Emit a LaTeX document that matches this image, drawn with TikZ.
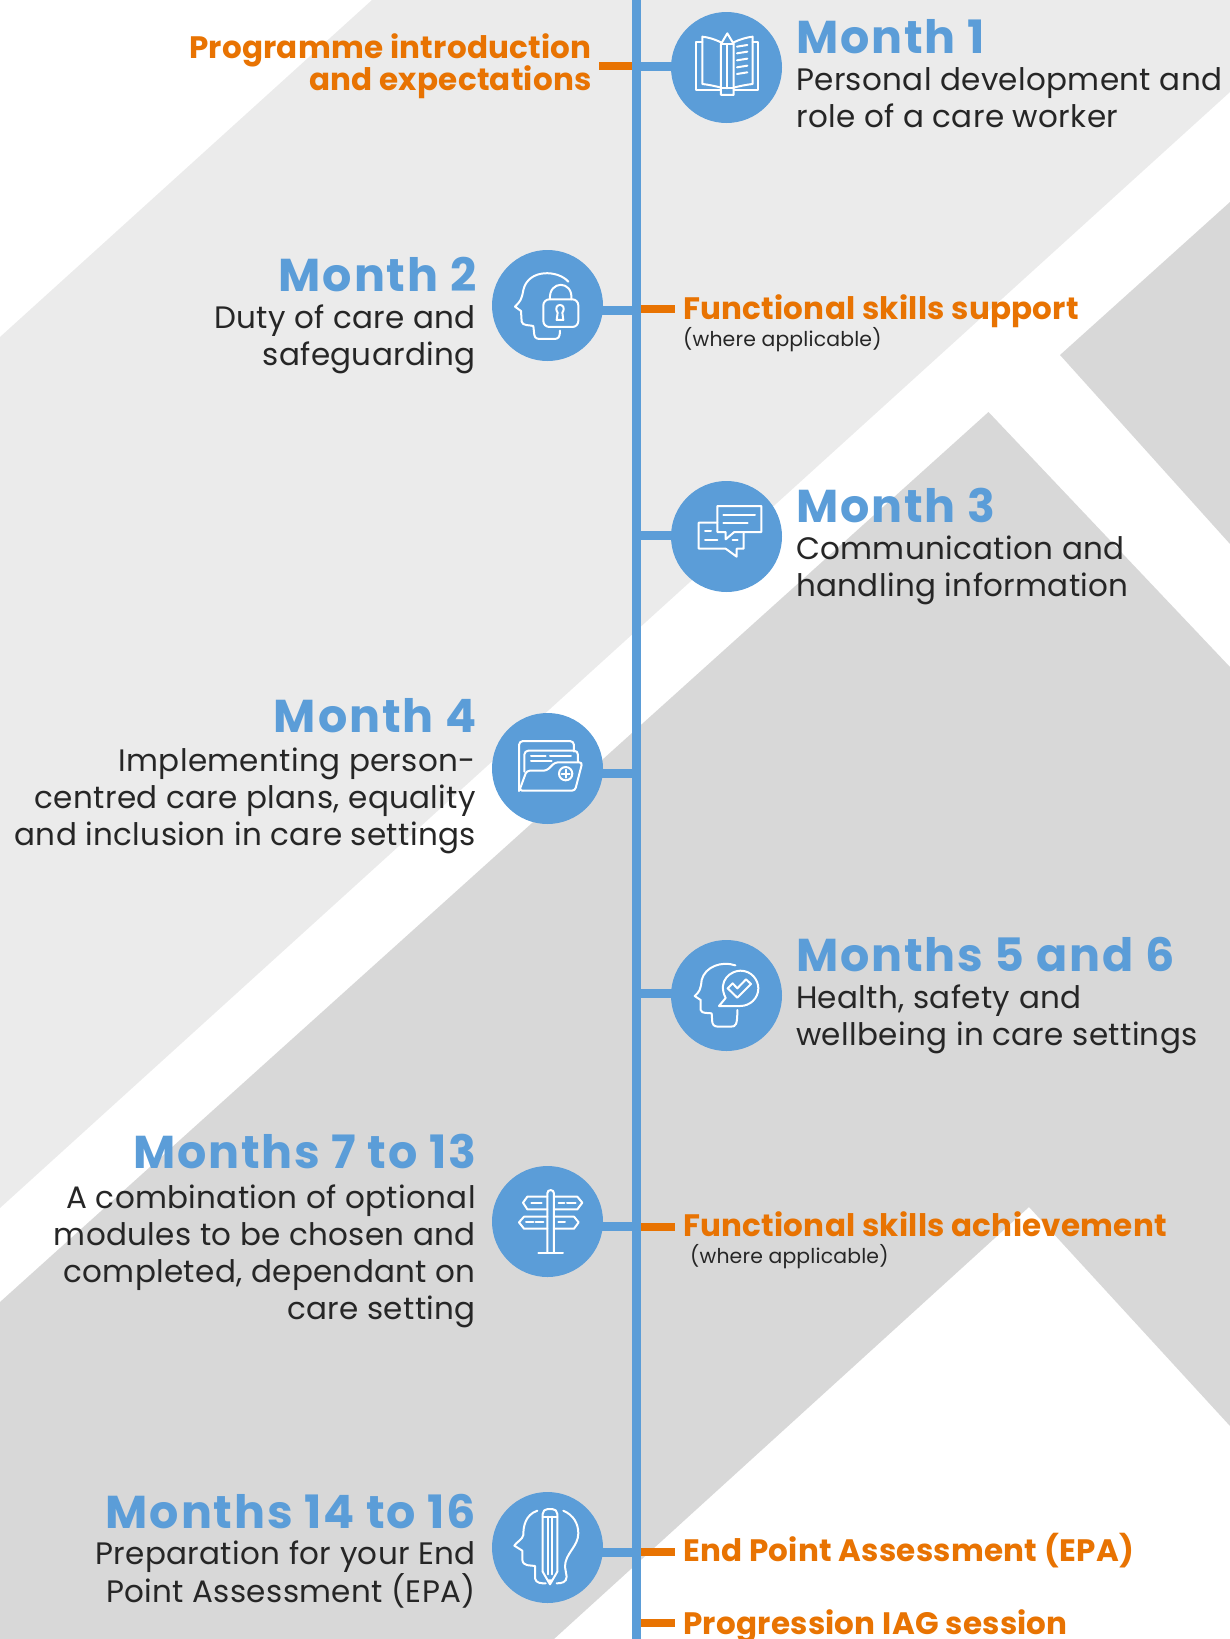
\documentclass[tikz,border=0pt]{standalone}
\usepackage{fontspec}
\setmainfont{Poppins}[LetterSpace=1.1]
\newfontfamily\headfont{Poppins}[LetterSpace=4]
\newfontfamily\notefont{Poppins}[LetterSpace=0.8]
\newfontfamily\smallfont{Poppins}[LetterSpace=0.8]
\definecolor{bandlight}{HTML}{EBEBEB}
\definecolor{banddark}{HTML}{D8D8D8}
\definecolor{spineblue}{HTML}{5B9DD8}
\definecolor{tickorange}{HTML}{E87302}
\definecolor{bodyink}{HTML}{262626}
\tikzset{
  month/.style={circle,fill=spineblue,minimum size=111pt,inner sep=0pt},
  stub/.style={draw=spineblue,line width=9pt,shorten >=-3pt},
  tick/.style={draw=tickorange,line width=8pt},
  headR/.style={anchor=base west,inner sep=0pt,text=spineblue,font=\fontsize{46}{46}\headfont\bfseries},
  headL/.style={headR,anchor=base east},
  bodyR/.style={anchor=base west,inner sep=0pt,text=bodyink,align=left,font=\fontsize{31}{37}\selectfont},
  bodyL/.style={bodyR,anchor=base east,align=right},
  noteL/.style={anchor=base west,inner sep=0pt,text=tickorange,font=\fontsize{31}{33}\notefont\bfseries},
  noteR/.style={noteL,anchor=base east,align=right},
  small/.style={anchor=base west,inner sep=0pt,text=bodyink,font=\fontsize{20.4}{24}\smallfont},
  icon/.style={x=0.3333pt,y=-0.3333pt,draw=white,line width=2pt,line join=round,line cap=round},
}
\begin{document}
\begin{tikzpicture}[x=1pt,y=-1pt]
  \useasboundingbox (0,0) rectangle (1230,1639);
  % background bands
  \fill[bandlight] (372,0) -- (0,337) -- (0,1208) -- (1230,92) -- (1230,0) -- cycle;
  \fill[banddark] (1230,202) -- (1060,355) -- (1230,544) -- cycle;
  \fill[banddark] (988.5,412) -- (0,1302) -- (0,1639) -- (554,1639) -- (1029,1207)
        -- (1230,1426) -- (1230,667) -- cycle;

  % spine and circles
  \coordinate (top) at (636.5,0);
  \coordinate (bot) at (636.5,1639);
  \draw[spineblue,line width=9pt] (top) -- (bot);

  \node[month] (m1) at (726.5,67.5) {};
  \node[month] (m2) at (547.5,305.5) {};
  \node[month] (m3) at (726.5,536.5) {};
  \node[month] (m4) at (547.5,768.5) {};
  \node[month] (m5) at (726.5,995.5) {};
  \node[month] (m6) at (547.5,1221.5) {};
  \node[month] (m7) at (547.5,1547.5) {};

  \coordinate (j1) at (636.5,66.5);
  \coordinate (j2) at (636.5,310.5);
  \coordinate (j3) at (636.5,535.5);
  \coordinate (j4) at (636.5,773);
  \coordinate (j5) at (636.5,993.5);
  \coordinate (j6) at (636.5,1226.5);
  \coordinate (j7) at (636.5,1552);
  \draw[stub] (j1) -- (j1 -| m1.west);
  \draw[stub] (j2) -- (j2 -| m2.east);
  \draw[stub] (j3) -- (j3 -| m3.west);
  \draw[stub] (j4) -- (j4 -| m4.east);
  \draw[stub] (j5) -- (j5 -| m5.west);
  \draw[stub] (j6) -- (j6 -| m6.east);
  \draw[stub] (j7) -- (j7 -| m7.east);

  % orange ticks
  \coordinate (o1) at (632,66);
  \coordinate (e1) at (599,66);
  \coordinate (o2) at (641,309);
  \coordinate (e2) at (675,309);
  \coordinate (o3) at (641,1226.5);
  \coordinate (e3) at (675,1226.5);
  \coordinate (o4) at (641,1552);
  \coordinate (e4) at (675,1552);
  \coordinate (o5) at (641,1622.5);
  \coordinate (e5) at (675,1622.5);
  \draw[tick] (o1) -- (e1);
  \draw[tick] (o2) -- (e2);
  \draw[tick] (o3) -- (e3);
  \draw[tick] (o4) -- (e4);
  \draw[tick] (o5) -- (e5);

  % month texts
  \node[headR] (h1) at (796,53) {Month 1};
  \node[bodyR] (b1) at (796,127.5) {Personal development and\\role of a care worker};
  \node[headL] (h2) at (476.5,291.5) {Month 2};
  \node[bodyL] (b2) at (476,365.5) {Duty of care and\\safeguarding};
  \node[headR] (h3) at (796,522) {Month 3};
  \node[bodyR] (b3) at (796,596) {Communication and\\handling information};
  \node[headL] (h4) at (476.5,732.5) {Month 4};
  \node[bodyL] (b4) at (476,845) {Implementing person-\\centred care plans, equality\\and inclusion in care settings};
  \node[headR] (h5) at (796,971) {Months 5 and 6};
  \node[bodyR] (b5) at (796,1045) {Health, safety and\\wellbeing in care settings};
  \node[headL] (h6) at (476.5,1168) {Months 7 to 13};
  \node[bodyL] (b6) at (476,1319) {A combination of optional\\modules to be chosen and\\completed, dependant on\\care setting};
  \node[headL] (h7) at (476.5,1528) {Months 14 to 16};
  \node[bodyL] (b7) at (476,1602.5) {Preparation for your End\\Point Assessment (EPA)};

  % orange notes
  \node[noteR] (n1) at (592,90) {Programme introduction\\[-3pt]and expectations};
  \node[noteL] (n2) at (683,319) {Functional skills support};
  \node[small] (s2) at (683,346) {(where applicable)};
  \node[noteL] (n3) at (683,1236) {Functional skills achievement};
  \node[small] (s3) at (690,1263) {(where applicable)};
  \node[noteL] (n4) at (683,1561.5) {End Point Assessment (EPA)};
  \node[noteL] (n5) at (683,1634) {Progression IAG session};

  % icon m1: book and pencil
  \begin{scope}[shift={(640,0)},icon]
    \draw (187,127) -- (167,127) -- (167,271) -- (243,271);
    \draw (338,127) -- (355,127) -- (355,271) -- (281,271);
    \draw (243,127) .. controls (225,118) and (205,112) .. (187,110) -- (187,252)
          .. controls (205,254) and (225,258) .. (243,263);
    \draw (281,127) .. controls (300,118) and (320,112) .. (338,110) -- (338,252)
          .. controls (320,254) and (300,258) .. (281,263);
    \draw (243,285) -- (243,132) -- (262,100) -- (281,132) -- (281,285) -- cycle;
    \draw (243,132) -- (281,132) (243,265) -- (281,265) (262,132) -- (262,265);
    \foreach \yy in {140,160,181,202,222}
      \draw (291,\yy) -- (322,\yy-5);
  \end{scope}

  % icon m2: head and lock
  \begin{scope}[shift={(480,240)},icon]
    \draw (265,125) .. controls (235,90) and (145,85) .. (130,150)
          .. controls (125,180) and (120,185) .. (105,200) -- (123,213) -- (125,245)
          .. controls (127,258) and (150,255) .. (160,258) -- (163,285)
          .. controls (165,297) and (175,297) .. (185,297) -- (222,297)
          .. controls (235,297) and (240,292) .. (240,272);
    \draw[rounded corners=6pt] (190,178) rectangle (295,261);
    \draw (210,178) .. controls (205,120) and (280,120) .. (274,178);
    \draw (233,218) .. controls (222,200) and (235,195) .. (240,195)
          .. controls (245,195) and (258,200) .. (247,218) -- (250,240) -- (230,240) -- cycle;
  \end{scope}

  % icon m3: speech bubbles
  \begin{scope}[shift={(660,470)},icon]
    \draw (172,108) -- (304,108) -- (304,186) -- (223,186) -- (197,208) -- (197,186) -- (172,186) -- cycle;
    \draw (190,134) -- (285,134) (190,159) -- (263,159);
    \draw (172,158) -- (116,158) -- (116,236) -- (197,236) -- (230,260) -- (230,236) -- (251,236) -- (251,190);
    \draw (135,184) -- (153,184) (135,210) -- (172,210) (218,209) -- (233,209);
  \end{scope}

  % icon m4: folder
  \begin{scope}[shift={(485,705)},icon]
    \draw[rounded corners=4pt] (102,258) -- (102,108) -- (267,108) -- (267,140);
    \draw[rounded corners=4pt] (118,200) -- (118,137) -- (279,137) -- (279,170);
    \draw[rounded corners=3pt] (103,257) -- (125,197) -- (185,197) -- (210,172) -- (292,172) -- (270,257) -- cycle;
    \draw (242,206) circle[radius=20];
    \draw (230,206) -- (254,206) (242,194) -- (242,218);
    \draw (138,153) -- (182,153) (195,153) -- (258,153) (138,168) -- (200,168);
  \end{scope}

  % icon m5: head and tick
  \begin{scope}[shift={(660,930)},icon]
    \draw (226,106) .. controls (185,92) and (135,110) .. (125,150)
          .. controls (122,180) and (118,185) .. (104,198) -- (122,210) -- (122,240)
          .. controls (125,252) and (145,248) .. (155,250) -- (157,278)
          .. controls (160,290) and (170,290) .. (180,290) -- (212,290)
          .. controls (228,290) and (232,285) .. (232,240);
    \draw (177,228) -- (197,204) .. controls (170,150) and (215,122) .. (241,122)
          .. controls (275,122) and (295,150) .. (295,175)
          .. controls (295,205) and (270,228) .. (241,228) -- cycle;
    \draw (203,175) -- (218,160) -- (232,175) -- (258,148) -- (273,162) -- (232,203) -- cycle;
  \end{scope}

  % icon m6: signpost
  \begin{scope}[shift={(485,1160)},icon]
    \draw (187,278) -- (187,100) .. controls (187,87) and (207,87) .. (207,100) -- (207,278);
    \draw (160,280) -- (234,280);
    \draw (187,110) -- (127,110) -- (114,128) -- (127,148) -- (187,148);
    \draw (207,110) -- (277,110) -- (292,128) -- (277,148) -- (207,148);
    \draw (187,170) -- (117,170) -- (102,187) -- (117,206) -- (187,206);
    \draw (207,170) -- (267,170) -- (281,187) -- (267,206) -- (207,206);
    \draw (139,129) -- (170,129) (221,129) -- (238,129) (246,129) -- (272,129);
    \draw (123,187) -- (145,187) (152,187) -- (175,187) (220,187) -- (240,187);
  \end{scope}

  % icon m7: pencil in head
  \begin{scope}[shift={(485,1485)},icon]
    \draw[rounded corners=5pt] (173,260) -- (173,72) -- (217,72) -- (217,260);
    \draw (173,260) -- (195,298) -- (217,260);
    \draw (173,95) -- (217,95) (190,95) -- (190,268) (200,95) -- (200,268);
    \fill[white] (187,283) -- (195,298) -- (203,283) -- cycle;
    \draw (157,77) .. controls (120,90) and (115,125) .. (115,150)
          .. controls (112,165) and (95,170) .. (88,182) -- (112,197) -- (112,225)
          .. controls (115,245) and (135,240) .. (150,243) -- (150,280)
          .. controls (152,295) and (170,295) .. (182,295);
    \draw (235,77) .. controls (265,90) and (280,115) .. (280,145)
          .. controls (280,185) and (240,205) .. (240,245) -- (245,275)
          .. controls (245,292) and (230,295) .. (215,295);
  \end{scope}
\end{tikzpicture}
\end{document}
